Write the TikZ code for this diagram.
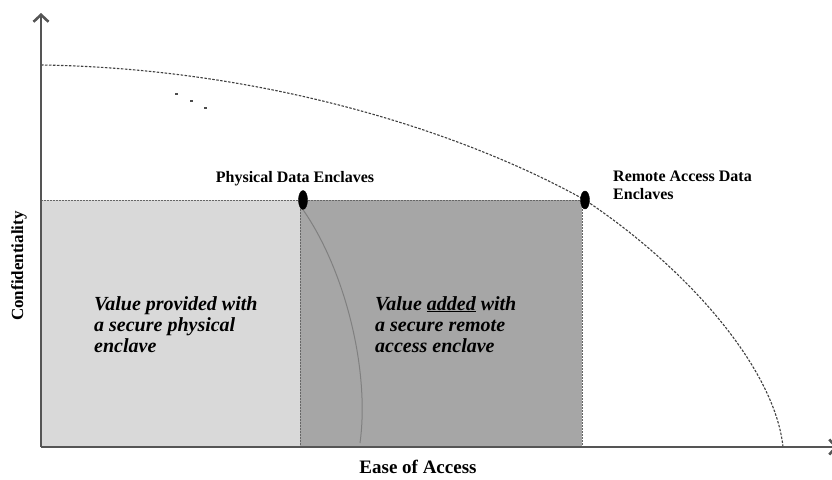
\documentclass[tikz,border=0pt]{standalone}
\usepackage{fontspec}
\setmainfont{Liberation Serif}
\usetikzlibrary{arrows.meta,shapes.geometric}

\definecolor{lightfill}{HTML}{D9D9D9}
\definecolor{darkfill}{HTML}{A6A6A6}
\definecolor{axisgray}{HTML}{555555}

\tikzset{
    axisline/.style={draw=axisgray, line width=2.6pt},
    boxedge/.style={draw=gray!80!black, dashed, line width=0.4pt, dash pattern=on 2pt off 1pt},
    frontier/.style={draw=black!75, line width=1.1pt, dash pattern=on 2.5pt off 1.5pt},
    marker/.style={ellipse, fill=black, draw=black, minimum width=9pt, minimum height=19pt, inner sep=0pt},
    boldlabel/.style={font=\fontsize{16}{18}\selectfont\bfseries, inner sep=0pt},
    valuetext/.style={font=\fontsize{20}{21}\selectfont\bfseries\itshape, align=left, inner sep=0pt, anchor=north west},
}

\begin{document}
\begin{tikzpicture}[x=1pt, y=-1pt]
        \useasboundingbox[fill=white] (0,0) rectangle (832,479);

        % the two value regions
        \draw[fill=lightfill, draw=none] (41,200) rectangle (300,447);
        \draw[fill=darkfill, draw=none] (300,200) rectangle (582,447);
        \draw[boxedge] (41,200) -- (582,200);
        \draw[boxedge] (300,200) -- (300,447);
        \draw[boxedge] (582,200) -- (582,447);

        % frontier curve
        \coordinate (ftop) at (41,65);
        \coordinate (fmid) at (585,200);
        \coordinate (ffoot) at (783,447);
        \draw[frontier] (ftop) .. controls (250,68) and (450,125) .. (fmid)
                               .. controls (690,270) and (775,370) .. (ffoot);
        \foreach \x/\y in {175/94, 190/101, 204/108}
            \draw[black!70, line width=1.1pt] (\x,\y) -- ++(2.5,0);

        % axes
        \coordinate (origin) at (41,447);
        \coordinate (ytip) at (41,13);
        \coordinate (xtip) at (838,447);
        \draw[axisline, -{Straight Barb[length=7pt, width=15pt]}] (origin) -- (ytip);
        \draw[axisline, -{Straight Barb[length=7pt, width=15pt]}] (origin) -- (xtip);

        % enclave markers
        \node[marker] (phys) at (303,200) {};
        \node[marker, minimum height=18pt] (remote) at (fmid) {};
        \coordinate (physfoot) at (360,443);
        \draw[gray, line width=1pt] (phys.south) .. controls (345,270) and (370,370) .. (physfoot);

        % labels
        \node[boldlabel] (physlbl) at (295,179) {Physical Data Enclaves};
        \node[boldlabel, align=left, anchor=north west] (remotelbl) at (613,171) {Remote Access Data\\Enclaves};
        \node[valuetext] (provided) at (94,296) {Value provided with\\a secure physical\\enclave};
        \node[valuetext] (added) at (375,296) {Value \underline{added} with\\a secure remote\\access enclave};
        \node[font=\fontsize{17}{19}\selectfont\bfseries, rotate=90, inner sep=0pt] (conf) at (19,266) {Confidentiality};
        \node[font=\fontsize{19}{21}\selectfont\bfseries, inner sep=0pt] (ease) at (418,467) {Ease of Access};

    \end{tikzpicture}
\end{document}
